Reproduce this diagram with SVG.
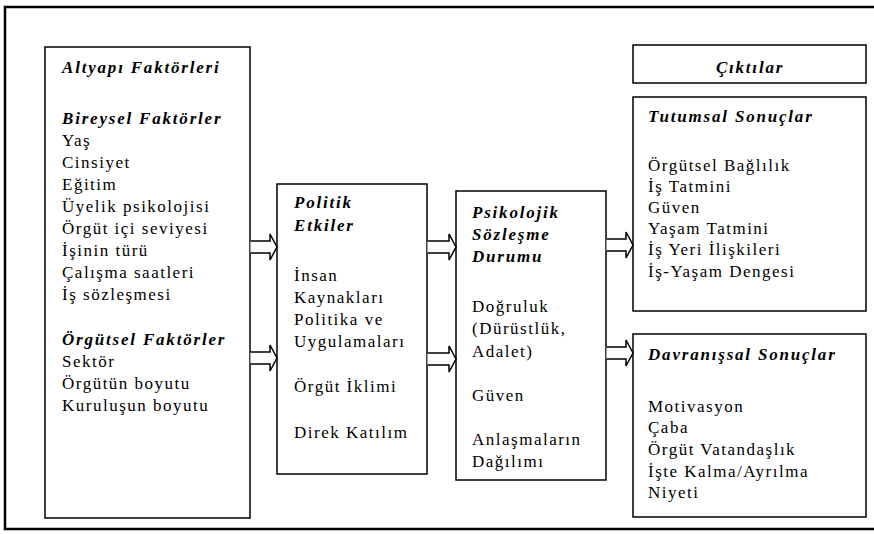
<svg xmlns="http://www.w3.org/2000/svg" width="874" height="534" viewBox="0 0 874 534">
<style>
text{font-family:'Liberation Serif','DejaVu Serif',serif;font-size:17px;fill:#000;letter-spacing:1.5px}
.h{font-weight:bold;font-style:italic;letter-spacing:1.8px}
.box{fill:#fff;stroke:#000;stroke-width:1.5}
.arr{fill:#fff;stroke:#000;stroke-width:1.5;stroke-linejoin:miter}
</style>
<rect x="5" y="7" width="880" height="522" fill="#fff" stroke="#000" stroke-width="2.5"/>
<g font-family="Liberation Serif, serif">
<g id="altyapi">
<rect class="box" x="45" y="47" width="205" height="471"/>
<text class="h" x="62" y="73">Altyapı Faktörleri</text>
<text class="h" x="62" y="124">Bireysel Faktörler</text>
<text x="62" y="146">Yaş</text>
<text x="62" y="168">Cinsiyet</text>
<text x="62" y="190">Eğitim</text>
<text x="62" y="212">Üyelik psikolojisi</text>
<text x="62" y="234">Örgüt içi seviyesi</text>
<text x="62" y="256">İşinin türü</text>
<text x="62" y="278">Çalışma saatleri</text>
<text x="62" y="300">İş sözleşmesi</text>
<text class="h" x="62" y="345">Örgütsel Faktörler</text>
<text x="62" y="367">Sektör</text>
<text x="62" y="389">Örgütün boyutu</text>
<text x="62" y="411">Kuruluşun boyutu</text>
</g>
<g id="politik">
<rect class="box" x="277" y="184" width="150" height="290"/>
<text class="h" x="294" y="208">Politik</text>
<text class="h" x="294" y="231">Etkiler</text>
<text x="294" y="281">İnsan</text>
<text x="294" y="303">Kaynakları</text>
<text x="294" y="325">Politika ve</text>
<text x="294" y="347">Uygulamaları</text>
<text x="294" y="392">Örgüt İklimi</text>
<text x="294" y="438">Direk Katılım</text>
</g>
<g id="psikolojik">
<rect class="box" x="456" y="191" width="150" height="289"/>
<text class="h" x="472" y="218">Psikolojik</text>
<text class="h" x="472" y="240">Sözleşme</text>
<text class="h" x="472" y="262">Durumu</text>
<text x="472" y="312">Doğruluk</text>
<text x="472" y="334">(Dürüstlük,</text>
<text x="472" y="357">Adalet)</text>
<text x="472" y="401">Güven</text>
<text x="472" y="445">Anlaşmaların</text>
<text x="472" y="467">Dağılımı</text>
</g>
<g id="ciktilar">
<rect class="box" x="633" y="45" width="233" height="38"/>
<text class="h" x="750" y="73" text-anchor="middle">Çıktılar</text>
</g>
<g id="tutumsal">
<rect class="box" x="633" y="97" width="233" height="214"/>
<text class="h" x="648" y="122">Tutumsal Sonuçlar</text>
<text x="648" y="171">Örgütsel Bağlılık</text>
<text x="648" y="192">İş Tatmini</text>
<text x="648" y="213">Güven</text>
<text x="648" y="234">Yaşam Tatmini</text>
<text x="648" y="255">İş Yeri İlişkileri</text>
<text x="648" y="277">İş-Yaşam Dengesi</text>
</g>
<g id="davranissal">
<rect class="box" x="633" y="334" width="233" height="183"/>
<text class="h" x="648" y="360">Davranışsal Sonuçlar</text>
<text x="648" y="412">Motivasyon</text>
<text x="648" y="433">Çaba</text>
<text x="648" y="455">Örgüt Vatandaşlık</text>
<text x="648" y="477">İşte Kalma/Ayrılma</text>
<text x="648" y="498">Niyeti</text>
</g>
</g>
<g id="connectors">
<path class="arr" d="M250.5,241 H270 V234 L277,247 L270,260 V253 H250.5"/>
<path class="arr" d="M250.5,352 H270 V345 L277,358 L270,371 V364 H250.5"/>
<path class="arr" d="M427.5,241 H449 V234 L456,247 L449,260 V253 H427.5"/>
<path class="arr" d="M427.5,353 H449 V346 L456,359 L449,372 V365 H427.5"/>
<path class="arr" d="M606.5,239 H626 V232 L633,245 L626,258 V251 H606.5"/>
<path class="arr" d="M606.5,347 H626 V340 L633,353 L626,366 V359 H606.5"/>
</g>
</svg>
